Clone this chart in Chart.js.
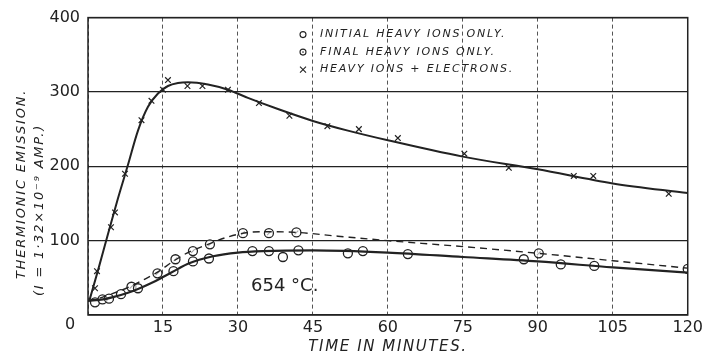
<!DOCTYPE html>
<html>
<head>
<meta charset="utf-8">
<script src="https://cdn.jsdelivr.net/npm/chart.js@4.4.1/dist/chart.umd.min.js"></script>
<style>
  html, body { margin: 0; padding: 0; background: #fff; }
  #wrap { width: 706px; height: 355px; }
</style>
</head>
<body>
<div id="wrap"><canvas id="chart" width="706" height="355"></canvas></div>
<script>
// --- DADOS ---
// tempo (min) e emissao (unidades de 1.32e-9 A)
const crossT = [1.4, 1.8, 4.6, 5.4, 7.4, 10.7, 12.7, 15, 16, 19.9, 22.9, 28, 34.2, 40.3, 47.9, 54.2, 62, 75.3, 84.2, 97.2, 101.1, 116.2];
const crossV = [36, 59, 118, 138, 190, 262, 288, 303, 316, 308, 308, 303, 285, 268, 254, 250, 238, 217, 198, 187, 187, 163];

const initT = [1.4, 2.9, 4.2, 6.6, 10, 17.1, 21, 24.2, 32.9, 36.2, 39, 42.1, 52, 55, 64, 87.2, 94.6, 101.3, 120];
const initV = [17, 21, 22, 28, 36, 59, 72, 76, 86, 86, 78, 87, 83, 86, 82, 75, 68, 66, 62];

const finalT = [8.7, 13.9, 17.5, 21, 24.4, 31, 36.2, 41.7, 90.2];
const finalV = [38, 56, 75, 86, 95, 110, 110, 111, 83];

// curvas tracadas a mao
const crossCurveT = [0.3, 2, 4, 6, 8, 10, 12, 14, 16, 18, 20, 24, 28, 32, 38, 45, 52, 60, 75, 90, 105, 120];
const crossCurveV = [20, 60, 109, 157, 202, 248, 280, 298, 308, 312, 313, 310, 303, 292, 277, 261, 248, 235, 213, 196, 177, 164];

const initCurveT = [0, 3, 5, 8, 10, 13, 15, 18, 20, 25, 30, 35, 45, 60, 75, 90, 105, 120];
const initCurveV = [19, 21, 24, 30, 35, 44, 51, 62, 69, 79, 84, 86, 87, 84, 78, 72, 64, 57];

const finalCurveT = [0, 2, 5, 8, 11, 14, 17, 20, 24, 28, 32, 36, 42, 50, 60, 75, 90, 105, 120];
const finalCurveV = [19, 22, 29, 37, 47, 58, 72, 84, 95, 105, 111, 112, 111, 106, 100, 92, 83, 73, 63];

const xTicks = [0, 15, 30, 45, 60, 75, 90, 105, 120];
const yTicks = [0, 100, 200, 300, 400];

const legendLabels = ['INITIAL HEAVY IONS ONLY.', 'FINAL HEAVY IONS ONLY.', 'HEAVY IONS + ELECTRONS.'];
const tempLabel = '654 °C.';

const INK = '#222';

const pts = (xs, ys) => xs.map((x, i) => ({ x: x, y: ys[i] }));

// --- TEXTOS, MOLDURA E LEGENDA ---
const decorPlugin = {
  id: 'decor',
  afterDraw(chart) {
    const { ctx, chartArea: a } = chart;
    ctx.save();
    ctx.strokeStyle = INK;
    ctx.lineWidth = 1.5;
    ctx.strokeRect(a.left, a.top, a.right - a.left, a.bottom - a.top);

    ctx.fillStyle = INK;
    // origem
    ctx.font = '16px "DejaVu Sans"';
    ctx.textAlign = 'center';
    ctx.textBaseline = 'middle';
    ctx.fillText('0', a.left - 18, a.bottom + 10);

    // legenda
    const lx = a.left + 215, ly = a.top + 17;
    ctx.font = 'italic 11px "DejaVu Sans"';
    ctx.letterSpacing = '1.8px';
    ctx.textAlign = 'left';
    legendLabels.forEach((t, i) => {
      const y = ly + i * 17.5;
      ctx.fillText(t, lx + 17, y);
    });
    ctx.letterSpacing = '0px';
    ctx.lineWidth = 1.1;
    ctx.beginPath(); ctx.arc(lx, ly, 3, 0, Math.PI * 2); ctx.stroke();
    ctx.beginPath(); ctx.arc(lx, ly + 17.5, 3, 0, Math.PI * 2); ctx.stroke();
    ctx.beginPath(); ctx.arc(lx, ly + 17.5, 0.8, 0, Math.PI * 2); ctx.fill();
    const cy = ly + 35;
    ctx.beginPath();
    ctx.moveTo(lx - 3, cy - 3); ctx.lineTo(lx + 3, cy + 3);
    ctx.moveTo(lx + 3, cy - 3); ctx.lineTo(lx - 3, cy + 3);
    ctx.stroke();

    // temperatura
    ctx.font = '18px "DejaVu Sans"';
    ctx.textBaseline = 'alphabetic';
    ctx.fillText(tempLabel, 251, 291);

    // titulo do eixo x
    ctx.font = 'italic 15px "DejaVu Sans"';
    ctx.letterSpacing = '1.6px';
    ctx.textAlign = 'center';
    ctx.fillText('TIME IN MINUTES.', 388, 351);

    // titulo do eixo y
    ctx.translate(22, 184);
    ctx.rotate(-Math.PI / 2);
    ctx.font = 'italic 13px "DejaVu Sans"';
    ctx.letterSpacing = '1.8px';
    ctx.textBaseline = 'middle';
    ctx.fillText('THERMIONIC EMISSION.', 0, 0);
    ctx.fillText('(I = 1·32×10⁻⁹ AMP.)', -26, 18);
    ctx.restore();
  }
};

const ctx = document.getElementById('chart').getContext('2d');
new Chart(ctx, {
  type: 'scatter',
  data: {
    datasets: [
      {
        type: 'line', data: pts(crossCurveT, crossCurveV), borderColor: INK, borderWidth: 2,
        pointRadius: 0, cubicInterpolationMode: 'monotone', fill: false
      },
      {
        type: 'line', data: pts(initCurveT, initCurveV), borderColor: INK, borderWidth: 2.2,
        pointRadius: 0, cubicInterpolationMode: 'monotone', fill: false
      },
      {
        type: 'line', data: pts(finalCurveT, finalCurveV), borderColor: INK, borderWidth: 1.4,
        borderDash: [7, 5], pointRadius: 0, cubicInterpolationMode: 'monotone', fill: false
      },
      {
        data: pts(crossT, crossV), pointStyle: 'crossRot', pointRadius: 4,
        borderColor: INK, borderWidth: 1.2
      },
      {
        data: pts(initT, initV), pointStyle: 'circle', pointRadius: 4.5,
        borderColor: INK, backgroundColor: 'rgba(255,255,255,0.6)', borderWidth: 1.3
      },
      {
        data: pts(finalT, finalV), pointStyle: 'circle', pointRadius: 4.5,
        borderColor: INK, backgroundColor: 'rgba(255,255,255,0.6)', borderWidth: 1.3
      },
      {
        // risco diagonal dentro dos circulos "final"
        data: pts(finalT, finalV), pointStyle: 'line', pointRadius: 2.6, rotation: -45,
        borderColor: INK, borderWidth: 1.1
      }
    ]
  },
  options: {
    responsive: false,
    animation: false,
    events: [],
    layout: { padding: { top: 16, right: 14, left: 0, bottom: 0 } },
    plugins: { legend: { display: false }, tooltip: { enabled: false } },
    scales: {
      x: {
        type: 'linear', min: 0, max: 120,
        afterFit: (s) => { s.height = 40; },
        afterBuildTicks: (s) => { s.ticks = xTicks.map(v => ({ value: v })); },
        ticks: {
          color: INK, font: { family: 'DejaVu Sans', size: 16 }, padding: 3,
          callback: (v) => (v === 0 ? '' : v)
        },
        grid: { color: '#555', lineWidth: 1, drawTicks: false },
        border: { display: false, dash: [4, 3] }
      },
      y: {
        type: 'linear', min: 0, max: 400,
        afterFit: (s) => { s.width = 88; },
        afterBuildTicks: (s) => { s.ticks = yTicks.map(v => ({ value: v })); },
        ticks: {
          color: INK, font: { family: 'DejaVu Sans', size: 16 }, padding: 8,
          callback: (v) => (v === 0 ? '' : v)
        },
        grid: { color: INK, lineWidth: 1.2, drawTicks: false },
        border: { display: false }
      }
    }
  },
  plugins: [decorPlugin]
});
</script>
</body>
</html>
